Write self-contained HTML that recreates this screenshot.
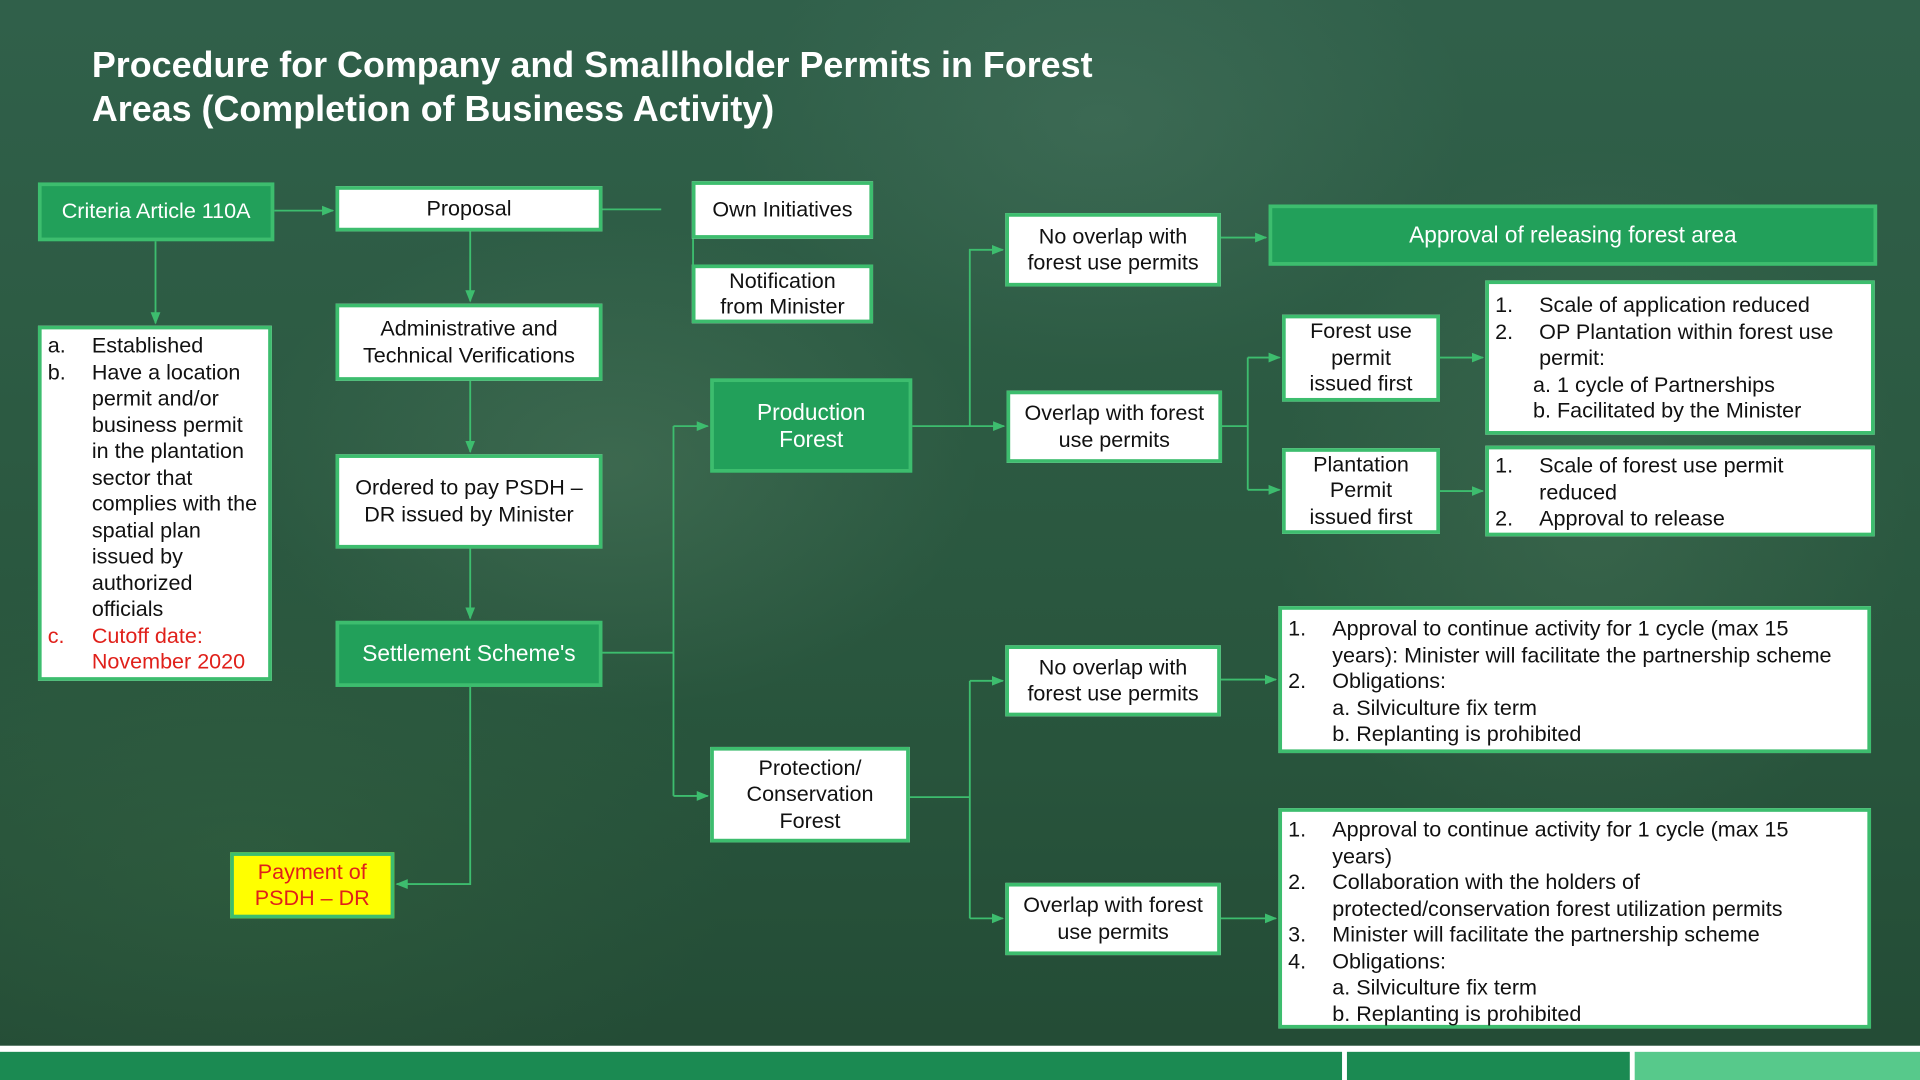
<!DOCTYPE html>
<html><head><meta charset="utf-8"><style>
html,body{margin:0;padding:0;width:1920px;height:1080px;overflow:hidden;background:#244a35;}
#s{position:absolute;left:0;top:0;width:1568px;height:882px;transform:scale(1.22449);transform-origin:0 0;
background:
radial-gradient(ellipse 300px 200px at 500px 380px,rgba(110,150,120,0.25),transparent),
radial-gradient(ellipse 260px 300px at 1300px 420px,rgba(100,140,110,0.22),transparent),
radial-gradient(ellipse 400px 250px at 200px 700px,rgba(60,110,70,0.3),transparent),
radial-gradient(ellipse 300px 200px at 900px 100px,rgba(110,150,130,0.2),transparent),
linear-gradient(180deg,#30604a 0%,#2c5a42 40%,#28543c 70%,#234b35 100%);
font-family:"Liberation Sans",Arial,sans-serif;}
.b{position:absolute;box-sizing:border-box;border:3px solid #3dbd6e;background:#fff;color:#111;font-size:17.6px;line-height:21.5px;display:flex;align-items:center;justify-content:center;text-align:center;}
.f{background:#22a05a;color:#fff;font-size:18.5px;}
.l{display:block;text-align:left;padding:3px 5px;}
.r{display:flex;}
.r span:first-child{width:36px;flex:none;}
.t{position:absolute;left:75px;top:36px;color:#fff;font-weight:bold;font-size:29.3px;line-height:36px;}
</style></head><body><div id="s">
<div class="t">Procedure for Company and Smallholder Permits in Forest<br>Areas (Completion of Business Activity)</div>

<svg width="1568" height="882" style="position:absolute;left:0;top:0">
<defs><marker id="a" markerWidth="10" markerHeight="10" refX="9" refY="5" orient="auto" markerUnits="userSpaceOnUse"><path d="M0,1 L10,5 L0,9z" fill="#3dbd6e"/></marker></defs>
<g stroke="#3dbd6e" stroke-width="1.5" fill="none">
<line x1="224" y1="172" x2="272" y2="172" marker-end="url(#a)"/>
<line x1="127" y1="197" x2="127" y2="264" marker-end="url(#a)"/>
<line x1="492" y1="171" x2="540" y2="171"/>
<line x1="566" y1="190" x2="566" y2="232"/>
<line x1="384" y1="189" x2="384" y2="246" marker-end="url(#a)"/>
<line x1="384" y1="311" x2="384" y2="369" marker-end="url(#a)"/>
<line x1="384" y1="448" x2="384" y2="505" marker-end="url(#a)"/>
<polyline points="384,561 384,722 324,722" marker-end="url(#a)"/>
<line x1="492" y1="533" x2="550" y2="533"/>
<line x1="550" y1="348" x2="550" y2="650"/>
<line x1="550" y1="348" x2="578" y2="348" marker-end="url(#a)"/>
<line x1="550" y1="650" x2="578" y2="650" marker-end="url(#a)"/>
<line x1="745" y1="348" x2="820" y2="348" marker-end="url(#a)"/>
<polyline points="792,348 792,204 819,204" marker-end="url(#a)"/>
<line x1="997" y1="194" x2="1034" y2="194" marker-end="url(#a)"/>
<line x1="998" y1="348" x2="1019" y2="348"/>
<line x1="1019" y1="292" x2="1019" y2="400"/>
<line x1="1019" y1="292" x2="1045" y2="292" marker-end="url(#a)"/>
<line x1="1019" y1="400" x2="1045" y2="400" marker-end="url(#a)"/>
<line x1="1176" y1="292" x2="1211" y2="292" marker-end="url(#a)"/>
<line x1="1176" y1="401" x2="1211" y2="401" marker-end="url(#a)"/>
<line x1="743" y1="651" x2="792" y2="651"/>
<polyline points="792,556 792,750"/>
<line x1="792" y1="556" x2="819" y2="556" marker-end="url(#a)"/>
<line x1="792" y1="750" x2="819" y2="750" marker-end="url(#a)"/>
<line x1="997" y1="555" x2="1042" y2="555" marker-end="url(#a)"/>
<line x1="997" y1="750" x2="1042" y2="750" marker-end="url(#a)"/>
</g></svg>

<div class="b f" style="left:31px;top:149px;width:193px;height:48px;font-size:17.6px">Criteria Article 110A</div>
<div class="b l" style="left:31px;top:266px;width:191px;height:290px">
<div class="r"><span>a.</span><span>Established</span></div>
<div class="r"><span>b.</span><span>Have a location permit and/or business permit in the plantation sector that complies with the spatial plan issued by authorized officials</span></div>
<div class="r" style="color:#e0201a"><span>c.</span><span>Cutoff date: November 2020</span></div>
</div>
<div class="b" style="left:274px;top:152px;width:218px;height:37px">Proposal</div>
<div class="b" style="left:274px;top:248px;width:218px;height:63px">Administrative and<br>Technical Verifications</div>
<div class="b" style="left:274px;top:371px;width:218px;height:77px">Ordered to pay PSDH –<br>DR issued by Minister</div>
<div class="b f" style="left:274px;top:507px;width:218px;height:54px">Settlement Scheme's</div>
<div class="b" style="left:188px;top:696px;width:134px;height:54px;background:#ffff00;color:#e0201a;border-color:#3dbd6e">Payment of<br>PSDH – DR</div>
<div class="b" style="left:565px;top:148px;width:148px;height:47px">Own Initiatives</div>
<div class="b" style="left:565px;top:216px;width:148px;height:48px">Notification<br>from Minister</div>
<div class="b f" style="left:580px;top:309px;width:165px;height:77px">Production<br>Forest</div>
<div class="b" style="left:580px;top:610px;width:163px;height:78px">Protection/<br>Conservation<br>Forest</div>
<div class="b" style="left:821px;top:174px;width:176px;height:60px">No overlap with<br>forest use permits</div>
<div class="b" style="left:822px;top:319px;width:176px;height:59px">Overlap with forest<br>use permits</div>
<div class="b" style="left:821px;top:527px;width:176px;height:58px">No overlap with<br>forest use permits</div>
<div class="b" style="left:821px;top:721px;width:176px;height:59px">Overlap with forest<br>use permits</div>
<div class="b f" style="left:1036px;top:167px;width:497px;height:50px">Approval of releasing forest area</div>
<div class="b" style="left:1047px;top:257px;width:129px;height:71px">Forest use<br>permit<br>issued first</div>
<div class="b" style="left:1047px;top:366px;width:129px;height:70px">Plantation<br>Permit<br>issued first</div>
<div class="b l" style="left:1213px;top:229px;width:318px;height:126px;padding-top:7px">
<div class="r"><span>1.</span><span>Scale of application reduced</span></div>
<div class="r"><span>2.</span><span>OP Plantation within forest use<br>permit:</span></div>
<div style="padding-left:31px">a. 1 cycle of Partnerships</div>
<div style="padding-left:31px">b. Facilitated by the Minister</div>
</div>
<div class="b l" style="left:1213px;top:364px;width:318px;height:74px">
<div class="r"><span>1.</span><span>Scale of forest use permit<br>reduced</span></div>
<div class="r"><span>2.</span><span>Approval to release</span></div>
</div>
<div class="b l" style="left:1044px;top:495px;width:484px;height:120px;padding-top:5px">
<div class="r"><span>1.</span><span>Approval to continue activity for 1 cycle (max 15<br>years): Minister will facilitate the partnership scheme</span></div>
<div class="r"><span>2.</span><span>Obligations:</span></div>
<div style="padding-left:36px">a. Silviculture fix term</div>
<div style="padding-left:36px">b. Replanting is prohibited</div>
</div>
<div class="b l" style="left:1044px;top:660px;width:484px;height:180px;padding-top:4px">
<div class="r"><span>1.</span><span>Approval to continue activity for 1 cycle (max 15<br>years)</span></div>
<div class="r"><span>2.</span><span>Collaboration with the holders of<br>protected/conservation forest utilization permits</span></div>
<div class="r"><span>3.</span><span>Minister will facilitate the partnership scheme</span></div>
<div class="r"><span>4.</span><span>Obligations:</span></div>
<div style="padding-left:36px">a. Silviculture fix term</div>
<div style="padding-left:36px">b. Replanting is prohibited</div>
</div>

<div style="position:absolute;left:0;top:854px;width:1568px;height:28px;background:#fff"></div>
<div style="position:absolute;left:0;top:859px;width:1096px;height:23px;background:#1b8a52"></div>
<div style="position:absolute;left:1100px;top:859px;width:231px;height:23px;background:#1b8a52"></div>
<div style="position:absolute;left:1335px;top:859px;width:233px;height:23px;background:#57c98b"></div>
</div></body></html>
